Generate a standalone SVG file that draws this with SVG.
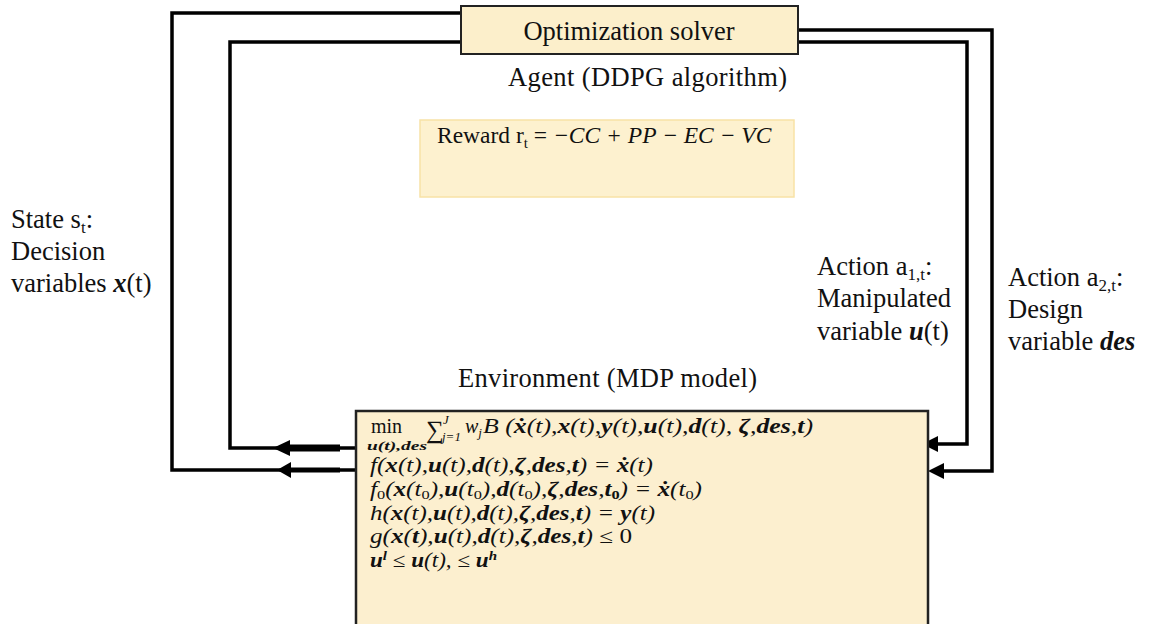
<svg xmlns="http://www.w3.org/2000/svg" width="1153" height="624" viewBox="0 0 1153 624">
<style>
.t{font-family:"Liberation Serif","Times New Roman",serif;font-size:26.5px;fill:#111}
.m{font-family:"Liberation Serif","Times New Roman",serif;font-size:20px;fill:#111;font-style:italic}
.b{font-weight:bold}
.s{font-size:13px}
.ln{fill:none;stroke:#000;stroke-width:3.5;stroke-linejoin:miter}
.hd{fill:#000}
</style>
<rect width="1153" height="624" fill="#fff"/>
<g id="connectors">
<polyline class="ln" points="461,13 172,13 172,470 357,470"/>
<polyline class="ln" points="461,42 230,42 230,448 357,448"/>
<polyline class="ln" points="798,30 992,30 992,471 940,471"/>
<polyline class="ln" points="798,42 967,42 967,444 934,444"/>
<line x1="286" y1="448" x2="340" y2="448" stroke="#000" stroke-width="7"/>
<line x1="286" y1="470" x2="340" y2="470" stroke="#000" stroke-width="5"/>
<polygon class="hd" points="273,448 290,440 290,456"/>
<polygon class="hd" points="277,470 291,462 291,478"/>
<polygon class="hd" points="922,444 938,436 938,452"/>
<polygon class="hd" points="928,471 944,463 944,479"/>
</g>
<g id="solver">
<rect x="461" y="6" width="337" height="48" fill="#FCEFCB" stroke="#222" stroke-width="2"/>
<text class="t" x="629" y="40" text-anchor="middle">Optimization solver</text>
</g>
<g id="agent">
<text class="t" x="508" y="86" textLength="279">Agent (DDPG algorithm)</text>
</g>
<g id="reward">
<rect x="420" y="120" width="374" height="77" fill="#FDF1CF" stroke="#F8E2A6" stroke-width="1.5"/>
<text class="t" x="437" y="143" style="font-size:23.5px">Reward r<tspan dy="5" style="font-size:15px">t</tspan><tspan dy="-5"> = </tspan><tspan style="font-style:italic">−CC + PP − EC − VC</tspan></text>
</g>
<g id="state">
<text class="t" x="11" y="228">State s<tspan dy="5" style="font-size:17px">t</tspan><tspan dy="-5">:</tspan></text>
<text class="t" x="11" y="260">Decision</text>
<text class="t" x="11" y="292">variables <tspan class="b" style="font-style:italic">x</tspan>(t)</text>
</g>
<g id="action1">
<text class="t" x="817" y="275">Action a<tspan dy="5" style="font-size:17px">1,t</tspan><tspan dy="-5">:</tspan></text>
<text class="t" x="817" y="307">Manipulated</text>
<text class="t" x="817" y="340">variable <tspan class="b" style="font-style:italic">u</tspan>(t)</text>
</g>
<g id="action2">
<text class="t" x="1008" y="286">Action a<tspan dy="5" style="font-size:17px">2,t</tspan><tspan dy="-5">:</tspan></text>
<text class="t" x="1008" y="318">Design</text>
<text class="t" x="1008" y="350">variable <tspan class="b" style="font-style:italic">des</tspan></text>
</g>
<g id="environment">
<text class="t" x="458" y="387" textLength="299">Environment (MDP model)</text>
<rect x="356" y="411" width="572" height="240" fill="#FCEFCF" stroke="#222" stroke-width="2.5"/>
<text class="m" x="371" y="433" style="font-style:normal">min</text>
<text class="m s b" x="367" y="450" textLength="60" lengthAdjust="spacingAndGlyphs">u(t),des</text>
<text class="m" x="426" y="438" style="font-style:normal;font-size:25px">∑</text>
<text class="m s" x="443" y="424">J</text>
<text class="m s" x="442" y="441">j=1</text>
<text class="m" x="465" y="433">w<tspan class="s" dy="4">j</tspan></text>
<text class="m" x="483" y="433" textLength="330" lengthAdjust="spacingAndGlyphs">B (<tspan class="b">ẋ</tspan>(t),<tspan class="b">x</tspan>(t),<tspan class="b">y</tspan>(t),<tspan class="b">u</tspan>(t),<tspan class="b">d</tspan>(t), <tspan class="b">ζ</tspan>,<tspan class="b">des</tspan>,<tspan class="b">t</tspan>)</text>
<text class="m" x="370" y="472" textLength="283" lengthAdjust="spacingAndGlyphs">f(<tspan class="b">x</tspan>(t),<tspan class="b">u</tspan>(t),<tspan class="b">d</tspan>(t),<tspan class="b">ζ</tspan>,<tspan class="b">des</tspan>,<tspan class="b">t</tspan>) = <tspan class="b">ẋ</tspan>(t)</text>
<text class="m" x="370" y="496" textLength="332" lengthAdjust="spacingAndGlyphs">f<tspan class="s" dy="3" style="font-style:normal">0</tspan><tspan dy="-3">(</tspan><tspan class="b">x</tspan>(t<tspan class="s" dy="3" style="font-style:normal">0</tspan><tspan dy="-3">),</tspan><tspan class="b">u</tspan>(t<tspan class="s" dy="3" style="font-style:normal">0</tspan><tspan dy="-3">),</tspan><tspan class="b">d</tspan>(t<tspan class="s" dy="3" style="font-style:normal">0</tspan><tspan dy="-3">),</tspan><tspan class="b">ζ</tspan>,<tspan class="b">des</tspan>,<tspan class="b">t</tspan><tspan class="s b" dy="3" style="font-style:normal">0</tspan><tspan dy="-3">) = </tspan><tspan class="b">ẋ</tspan>(t<tspan class="s" dy="3" style="font-style:normal">0</tspan><tspan dy="-3">)</tspan></text>
<text class="m" x="370" y="520" textLength="285" lengthAdjust="spacingAndGlyphs">h(<tspan class="b">x</tspan>(t),<tspan class="b">u</tspan>(t),<tspan class="b">d</tspan>(t),<tspan class="b">ζ</tspan>,<tspan class="b">des</tspan>,<tspan class="b">t</tspan>) = <tspan class="b">y</tspan>(t)</text>
<text class="m" x="370" y="543" textLength="262" lengthAdjust="spacingAndGlyphs">g(<tspan class="b">x</tspan>(<tspan class="b">t</tspan>),<tspan class="b">u</tspan>(t),<tspan class="b">d</tspan>(t),<tspan class="b">ζ</tspan>,<tspan class="b">des</tspan>,<tspan class="b">t</tspan>) <tspan style="font-style:normal">≤ 0</tspan></text>
<text class="m" x="370" y="567" textLength="127" lengthAdjust="spacingAndGlyphs"><tspan class="b">u</tspan><tspan class="s b" dy="-7">l</tspan><tspan dy="7" style="font-style:normal"> ≤ </tspan><tspan class="b">u</tspan>(t),<tspan style="font-style:normal"> ≤ </tspan><tspan class="b">u</tspan><tspan class="s b" dy="-7">h</tspan></text>
</g>
</svg>
